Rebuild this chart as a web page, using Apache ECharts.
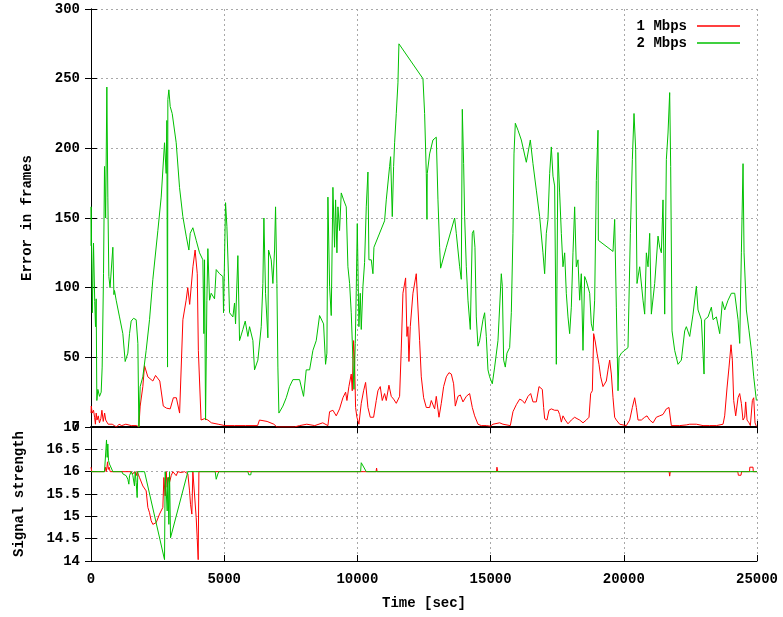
<!DOCTYPE html>
<html>
<head>
<meta charset="utf-8">
<script src="https://cdn.jsdelivr.net/npm/echarts@6/dist/echarts.min.js"></script>
<style>
  html, body { margin: 0; padding: 0; background: #fff; }
  #chart { width: 783px; height: 617px; }
</style>
</head>
<body>
<div id="chart"></div>
<script>
// error in frames over time, [sec, frames]
const err1Mbps = [
  [0,10],[10,15],[45,10],[95,12],[135,7],[165,2],[195,10],[226,5],[272,8],[318,3],[369,6],[409,12],[460,4],[511,10],
  [552,5],[593,5],[644,2],[715,3],[797,2],[878,1],[960,0],[1052,2],[1154,1],[1307,2],[1511,1],[1715,1],[1796,0],
  [1846,15],[1946,29],[2010,44],[2133,36],[2322,33],[2423,37],[2582,33],[2714,15],[2837,13.5],[2973,13],[3092,21],
  [3204,21],[3326,10],[3449,77],[3571,91],[3632,100],[3704,88],[3826,115],[3908,127],[3989,110],[4030,55],[4132,5],
  [4265,6],[4387,5],[4519,3],[4774,2],[5029,1],[5386,1],[5794,1],[6253,1],[6324,5],[6610,4],[6865,2],[6977,0],
  [7630,0],[7829,1],[8100,2],[8400,1],[8700,3],[8893,1],[8956,11],[9081,12],[9206,8],[9331,13],[9456,21],[9557,25],
  [9607,19],[9681,29],[9769,38],[9807,26],[9857,62],[9894,48],[9932,14],[9982,7],[10057,2],[10145,17],[10233,26],
  [10308,32],[10395,14],[10483,7],[10608,7],[10708,19],[10770,26],[10858,29],[10933,19],[11021,24],[11084,19],
  [11184,30],[11271,22],[11359,20],[11459,17],[11584,22],[11647,56],[11709,96],[11810,107],[11860,65],[11897,72],
  [11935,47],[11985,72],[12085,96],[12210,110],[12273,110],[12335,62],[12398,36],[12486,21],[12586,14],[12711,14],
  [12774,19],[12899,13],[12961,22],[13062,7],[13149,17],[13237,29],[13337,36],[13437,39],[13525,38],[13612,31],
  [13675,15],[13775,22],[13863,23],[13963,18],[14088,22],[14213,24],[14313,14],[14401,8],[14526,2],[14651,1],
  [14839,1],[14989,0.6],[15089,2],[15339,3],[15464,2],[15740,1],[15840,11],[15965,16],[16091,20],[16191,19],
  [16278,17],[16404,22],[16504,24],[16591,18],[16716,18],[16817,29],[16866,29],[16941,27],[16991,14],[17029,6],
  [17116,5],[17191,12],[17279,13],[17404,12],[17529,12],[17592,9],[17655,3.5],[17717,8],[17805,5],[17905,2.3],
  [18030,5],[18155,7],[18243,6],[18343,5],[18468,3],[18593,5],[18694,7],[18756,24],[18819,26],[18869,67],[18931,61],
  [18994,53],[19069,45],[19132,36],[19219,29],[19282,29],[19344,33],[19407,41],[19470,48],[19532,38],[19595,21],
  [19657,7],[19720,5],[19845,2],[19908,1],[20095,1],[20221,5],[20321,14],[20408,21],[20471,14],[20534,5],[20659,5],
  [20784,7],[20872,8],[20972,5],[21097,3],[21222,7],[21347,8],[21472,9],[21597,13],[21697,14],[21785,1],[21848,0.5],
  [22098,1],[22348,1.5],[22474,2],[22724,2],[22974,1],[23224,1],[23475,1],[23725,2],[23787,8],[23875,28],[23950,43],
  [24025,59],[24075,48],[24125,19],[24200,8],[24288,21],[24350,24],[24413,17],[24475,5],[24538,7],[24575,18],
  [24626,5],[24701,3],[24751,1],[24826,19],[24876,21],[24926,3],[24976,0.5]
];
const err2Mbps = [
  [0,130],[6,158],[50,82],[94,132],[140,90],[169,72],[194,92],[219,19],[257,27],[320,22],[382,25],[419,43],[470,110],
  [507,187],[550,150],[595,244],[632,165],[670,108],[715,100],[757,101],[820,129],[860,95],[882,98],[945,91],
  [1070,79],[1195,67],[1283,47],[1383,53],[1446,67],[1508,76],[1596,78],[1696,77],[1759,60],[1796,0],[1846,29],
  [1946,36],[2071,55],[2197,77],[2322,106],[2510,141],[2635,165],[2760,204],[2822,182],[2848,220],[2873,43],
  [2885,235],[2923,242],[2973,230],[3048,225],[3198,204],[3323,172],[3448,151],[3574,137],[3674,127],[3724,139],
  [3824,143],[3949,134],[4074,125],[4199,120],[4237,67],[4262,120],[4300,5],[4350,91],[4387,128],[4450,91],
  [4512,96],[4637,92],[4700,113],[4825,110],[4950,108],[4975,82],[5051,161],[5101,144],[5138,122],[5201,82],
  [5326,79],[5388,89],[5426,74],[5513,123],[5576,62],[5701,70],[5789,76],[5889,65],[5952,72],[6077,62],[6139,41],
  [6264,48],[6390,72],[6452,103],[6490,150],[6552,96],[6640,64],[6665,127],[6765,120],[6828,103],[6890,127],
  [6928,158],[6978,103],[7015,43],[7053,10],[7203,15],[7329,21],[7454,29],[7579,34],[7829,34],[7979,22],[8079,41],
  [8205,41],[8330,55],[8455,62],[8580,80],[8730,74],[8805,45],[8855,53],[8893,165],[8956,101],[9018,80],[9081,172],
  [9143,129],[9181,163],[9231,125],[9269,158],[9331,141],[9394,168],[9482,163],[9582,158],[9644,115],[9707,103],
  [9769,82],[9832,48],[9870,27],[9920,60],[9957,98],[9995,146],[10057,72],[10107,96],[10145,70],[10208,101],
  [10270,118],[10333,158],[10395,183],[10433,120],[10520,120],[10583,110],[10621,129],[11021,148],[11084,163],
  [11209,187],[11247,194],[11309,151],[11359,187],[11397,204],[11459,225],[11522,247],[11559,275],[12461,250],
  [12523,225],[12586,182],[12611,149],[12623,182],[12711,196],[12836,206],[12961,208],[13024,163],[13087,129],
  [13124,114],[13337,129],[13650,150],[13712,139],[13838,115],[13900,106],[13938,228],[13988,189],[14025,151],
  [14088,115],[14151,91],[14238,70],[14313,139],[14363,141],[14413,129],[14463,79],[14526,58],[14589,62],[14714,77],
  [14776,82],[14839,65],[14901,41],[14964,36],[15064,31],[15152,43],[15277,62],[15402,110],[15440,101],[15490,48],
  [15552,43],[15615,53],[15715,57],[15778,82],[15840,139],[15878,196],[15928,218],[16028,213],[16153,206],
  [16341,190],[16491,206],[16591,189],[16716,170],[16841,151],[16966,125],[17029,110],[17091,139],[17154,149],
  [17217,182],[17279,201],[17342,180],[17404,173],[17467,45],[17529,197],[17592,168],[17655,139],[17717,115],
  [17780,125],[17842,96],[17905,79],[17967,67],[18030,86],[18093,125],[18155,158],[18218,115],[18280,120],[18343,91],
  [18405,110],[18468,55],[18531,108],[18593,105],[18719,96],[18781,74],[18844,69],[18906,91],[18969,177],[19032,213],
  [19044,134],[19595,126],[19657,149],[19720,86],[19783,26],[19820,50],[19908,53],[20033,55],[20158,57],[20246,139],
  [20321,192],[20383,225],[20446,199],[20496,103],[20596,115],[20721,91],[20784,81],[20847,125],[20909,115],
  [20972,139],[21034,81],[21160,103],[21285,137],[21347,129],[21410,125],[21472,163],[21535,81],[21597,192],
  [21660,211],[21722,240],[21760,187],[21810,69],[21910,55],[22035,45],[22160,48],[22286,69],[22348,72],[22474,65],
  [22599,81],[22724,101],[22786,84],[22912,77],[23012,38],[23037,77],[23162,79],[23287,86],[23350,77],[23475,79],
  [23600,67],[23700,90],[23788,84],[23913,91],[24038,96],[24163,96],[24288,77],[24351,60],[24413,125],[24476,189],
  [24514,125],[24601,84],[24701,69],[24789,55],[24877,36],[24977,19]
];
// signal strength over time, [sec, level]
const sig1Mbps = [
  [0,16.1],[30,16],[507,16],[540,16.1],[570,16],[600,16.11],[620,16.22],[650,16.05],[680,16.1],[720,16],[1500,16],
  [1571,15.95],[1633,16],[1696,15.91],[1733,16],[1821,15.87],[1946,15.68],[2071,15.57],[2134,15.2],[2197,15.08],
  [2259,14.9],[2322,14.82],[2384,14.78],[2447,14.86],[2510,14.82],[2572,15.05],[2635,15.05],[2697,15.2],
  [2735,15.87],[2785,15.46],[2822,16],[2860,15.65],[2910,15.87],[2948,15.76],[3010,15.91],[3073,16],[3198,15.91],
  [3260,16],[3386,15.98],[3511,16],[3636,15.95],[3699,15.57],[3736,15.27],[3786,15.05],[3824,16],[3886,16],
  [3949,14.97],[3986,14.52],[4024,14.03],[4050,16],[10700,16],[10720,16.08],[10740,16],[15220,16],[15238,16.1],
  [15270,16],[21700,16],[21722,15.9],[21745,16],[24280,16],[24300,15.92],[24400,15.92],[24420,16],[24720,16],
  [24730,16.1],[24850,16.1],[24860,16],[25000,16]
];
const sig2Mbps = [
  [0,16],[507,16],[582,16.71],[607,16.32],[632,16.62],[657,16.25],[695,16.17],[820,16],[1158,16],[1196,15.95],
  [1320,15.91],[1383,15.83],[1421,15.72],[1446,15.91],[1508,16],[1571,15.91],[1633,15.68],[1658,16],[1696,15.76],
  [1733,15.42],[1758,16],[2009,16],[2760,14.03],[2785,16],[2860,15.12],[2885,15.87],[2923,14.82],[2948,16],
  [2985,14.52],[3636,16],[4662,16],[4700,15.83],[4762,15.95],[4800,16],[5889,16],[5920,15.93],[6000,15.93],
  [6014,16],[10120,16],[10145,16.2],[10333,16],[25000,16]
];
const xTicks = { min: 0, max: 25000, interval: 5000 };
const errTicks = { min: 0, max: 300, interval: 50 };
const sigTicks = { min: 14, max: 17, interval: 0.5 };

const RED = '#ff0000';
const GREEN = '#00c000';
const FONT = 'Liberation Mono';
const labelStyle = { color: '#000', fontFamily: FONT, fontWeight: 'bold', fontSize: 14 };
const gridLine = { show: true, lineStyle: { color: '#a8a8a8', type: [2, 3], width: 1 } };
const tick = { show: true, inside: true, length: 6, lineStyle: { color: '#000' } };
const line = { show: true, lineStyle: { color: '#000', width: 1 } };

function xAxis(grid, pos, opts) {
  return Object.assign({
    type: 'value', gridIndex: grid, position: pos, min: xTicks.min, max: xTicks.max, interval: xTicks.interval,
    axisLine: line, axisTick: tick, axisLabel: { show: false }, splitLine: { show: false }
  }, opts);
}
function yAxis(grid, pos, ticks, opts) {
  return Object.assign({
    type: 'value', gridIndex: grid, position: pos, min: ticks.min, max: ticks.max, interval: ticks.interval,
    axisLine: line, axisTick: tick, axisLabel: { show: false }, splitLine: { show: false }
  }, opts);
}

const chart = echarts.init(document.getElementById('chart'), null, { renderer: 'canvas' });
const option = {
  animation: false,
  backgroundColor: '#fff',
  grid: [
    { left: 91, right: 26, top: 9, height: 418 },
    { left: 91, right: 26, top: 427, height: 134 }
  ],
  legend: {
    orient: 'vertical',
    right: 38,
    top: 14,
    align: 'right',
    icon: 'rect',
    itemWidth: 43,
    itemHeight: 1.5,
    itemGap: 3,
    textStyle: Object.assign({}, labelStyle, { padding: [0, 5, 0, 0] }),
    data: ['1 Mbps', '2 Mbps']
  },
  xAxis: [
    xAxis(0, 'bottom', { axisLine: { show: true, lineStyle: { color: '#000', width: 2 } }, splitLine: gridLine }),
    xAxis(0, 'top', {}),
    xAxis(1, 'bottom', {
      splitLine: gridLine,
      axisLabel: Object.assign({ show: true, margin: 11, formatter: v => String(v) }, labelStyle),
      name: 'Time [sec]', nameLocation: 'middle', nameGap: 35, nameTextStyle: labelStyle
    }),
    xAxis(1, 'top', {})
  ],
  yAxis: [
    yAxis(0, 'left', errTicks, {
      splitLine: gridLine,
      axisLabel: Object.assign({ show: true, margin: 11 }, labelStyle),
      name: 'Error in frames', nameLocation: 'middle', nameRotate: 90, nameGap: 57, nameTextStyle: labelStyle
    }),
    yAxis(0, 'right', errTicks, {}),
    yAxis(1, 'left', sigTicks, {
      splitLine: gridLine,
      axisLabel: Object.assign({ show: true, margin: 11 }, labelStyle),
      name: 'Signal strength', nameLocation: 'middle', nameRotate: 90, nameGap: 65, nameTextStyle: labelStyle
    }),
    yAxis(1, 'right', sigTicks, {})
  ],
  series: [
    { name: '1 Mbps', type: 'line', xAxisIndex: 0, yAxisIndex: 0, data: err1Mbps, showSymbol: false,
      itemStyle: { color: RED }, lineStyle: { color: RED, width: 1 } },
    { name: '2 Mbps', type: 'line', xAxisIndex: 0, yAxisIndex: 0, data: err2Mbps, showSymbol: false,
      itemStyle: { color: GREEN }, lineStyle: { color: GREEN, width: 1 } },
    { name: '1 Mbps', type: 'line', xAxisIndex: 2, yAxisIndex: 2, data: sig1Mbps, showSymbol: false,
      itemStyle: { color: RED }, lineStyle: { color: RED, width: 1 } },
    { name: '2 Mbps', type: 'line', xAxisIndex: 2, yAxisIndex: 2, data: sig2Mbps, showSymbol: false,
      itemStyle: { color: GREEN }, lineStyle: { color: GREEN, width: 1 } }
  ]
};
chart.setOption(option);
</script>
</body>
</html>
